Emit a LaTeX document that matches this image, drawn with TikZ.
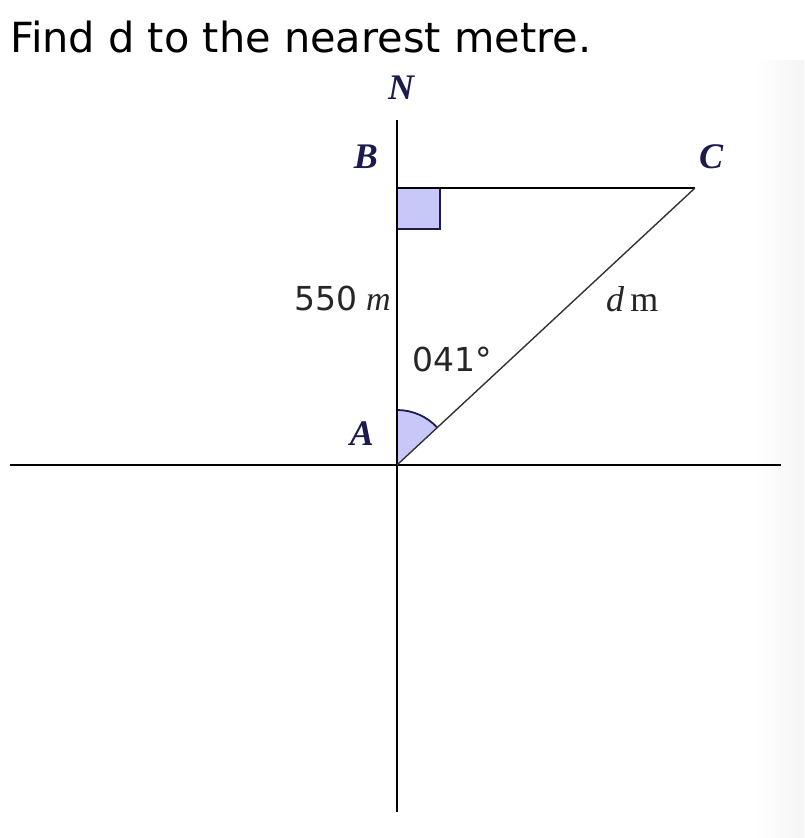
\documentclass[tikz,border=0pt]{standalone}
\usepackage{fontspec}
\setmainfont{Liberation Serif}
\newfontfamily\djv{DejaVu Sans}
\definecolor{navy}{HTML}{1B1B4D}
\definecolor{fillblue}{HTML}{C8C8F8}
\begin{document}
\begin{tikzpicture}[x=1pt,y=-1pt,
  axis/.style={line width=2.2pt,black},
  pt/.style={font=\fontsize{36}{36}\selectfont\bfseries\itshape,text=navy,inner sep=0pt},
  lab/.style={inner sep=0pt,text=black!85}]
\useasboundingbox (0,0) rectangle (804,838);
\shade[left color=white,right color=black!4] (755,60) rectangle (804,838);
\node[anchor=base west,inner sep=0pt,font=\djv\fontsize{41.5}{41.5}\selectfont] (title) at (10,52) {Find d to the nearest metre.};
\coordinate (A) at (397,465);
\coordinate (B) at (397,188);
\coordinate (C) at (695,188);
\coordinate (Ntop) at (397,120);
\coordinate (Sbot) at (397,812);
\coordinate (W) at (10,465);
\coordinate (E) at (781,465);
% right-angle box
\filldraw[fill=fillblue,draw=navy,line width=1.8pt] (B) rectangle (440,229);
% angle sector
\fill[fillblue] (A) -- (397,410) arc[start angle=-90,end angle=-43,radius=55] -- cycle;
\draw[navy,line width=1.8pt] (397,410) arc[start angle=-90,end angle=-43,radius=55];
\draw[axis] (Ntop) -- (Sbot);
\draw[axis] (W) -- (E);
\draw[axis] (B) -- (C);
\draw[line width=1.4pt,black!80] (A) -- (C);
\node[pt] (nN) at (401,88) {N};
\node[pt] (nB) at (366,157) {B};
\node[pt] (nC) at (711,157) {C};
\node[pt] (nA) at (362,434) {A};
\node[lab,anchor=base east] (l550) at (391,310) {{\djv\fontsize{33}{33}\selectfont 550}\hspace{9pt}{\fontsize{34}{34}\selectfont\itshape m}};
\node[lab,anchor=base west] (l041) at (412,371) {\djv\fontsize{33}{33}\selectfont 041°};
\node[lab,anchor=base west] (ldm) at (606,311) {\fontsize{36}{36}\selectfont\itshape d\/\,\upshape m};
\end{tikzpicture}
\end{document}
